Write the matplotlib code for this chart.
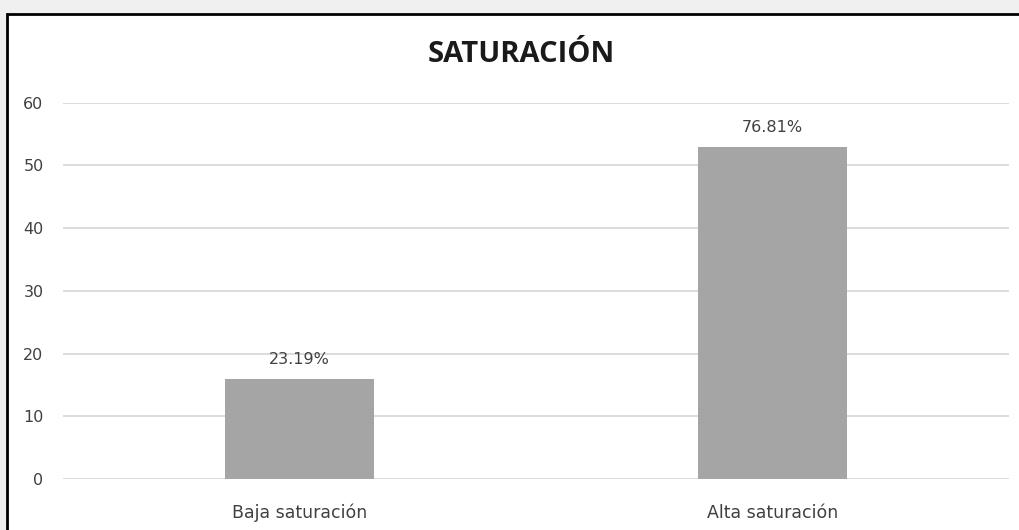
import matplotlib.pyplot as plt
from matplotlib.patches import Rectangle

categories = ['Baja saturación', 'Alta saturación']
counts = [16, 53]
pct_labels = ['23.19%', '76.81%']
y_ticks = [0, 10, 20, 30, 40, 50, 60]

txt = '#404040'
lab_font = 'DejaVu Sans'

fig = plt.figure(figsize=(10.19, 5.30), dpi=100)
fig.patch.set_facecolor('#f0f0f0')

# white chart frame with black border (cut off on right/bottom)
frame = Rectangle((7 / 1019, -0.05), 1.05, (530 - 13.5) / 530 + 0.05,
                  transform=fig.transFigure, facecolor='white',
                  edgecolor='black', linewidth=2, zorder=-5)
fig.patches.append(frame)

ax = fig.add_axes([63 / 1019, 51 / 530, 946 / 1019, (479 - 102.7) / 530])
ax.set_facecolor('none')
ax.set_zorder(2)

x = range(len(categories))
ax.bar(x, counts, width=0.313, color='#a5a5a5', zorder=2)

for xi, v, lab in zip(x, counts, pct_labels):
    ax.text(xi, v + 1.8, lab, ha='center', va='bottom', fontsize=11.5,
            color=txt, family=lab_font)

ax.set_xlim(-0.5, 1.5)
ax.set_ylim(0, 60)
ax.set_yticks(y_ticks)
ax.set_xticks(list(x))
ax.set_xticklabels(categories, fontsize=12.5, color=txt, family=lab_font)
ax.tick_params(axis='y', labelsize=11.5, labelcolor=txt, length=0, pad=14)
ax.tick_params(axis='x', length=0, pad=18)
for lab in ax.get_yticklabels():
    lab.set_family(lab_font)

ax.grid(axis='y', color='#d9d9d9', linewidth=1.3, zorder=0)
for s in ax.spines.values():
    s.set_visible(False)

fig.text(521 / 1019, 1 - 55 / 530, 'SATURACIÓN', ha='center', va='center',
         fontsize=21, fontweight='bold', color='#1a1a1a', family='Open Sans',
         zorder=3)

fig.savefig('out.png', dpi=100, facecolor=fig.get_facecolor())
